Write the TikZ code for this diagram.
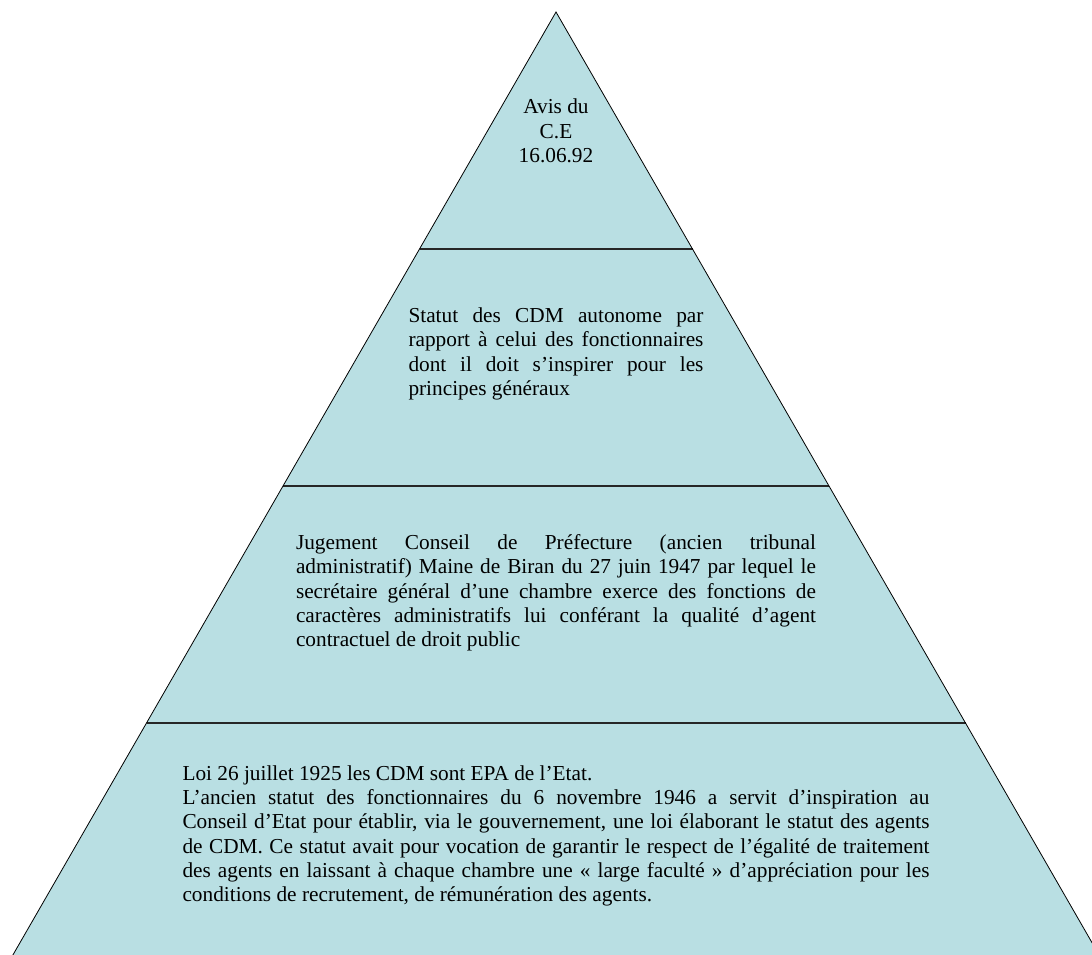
\documentclass[tikz,border=0pt]{standalone}
\usepackage{fontspec}
\setmainfont{Liberation Serif}
\usetikzlibrary{calc}
\definecolor{layerfill}{RGB}{185,223,227}

\begin{document}
\begin{tikzpicture}[x=1pt,y=-1pt,
  layertext/.style={inner sep=0pt, font=\fontsize{21.3}{24.3}\selectfont},
  bodytext/.style={layertext, align=justify},
  divider/.style={line width=1.8pt, draw=black!85}]
  \useasboundingbox (0,0) rectangle (1092,954);
  \clip (0,0) rectangle (1092,954);

  % Pyramid
  \coordinate (apex) at (556,12);
  \coordinate (bl) at (10,960);
  \coordinate (br) at (1102,960);
  \fill[layerfill] (apex) -- (bl) -- (br) -- cycle;
  \foreach \t in {0.25,0.5,0.75}
    \draw[divider] ($(apex)!\t!(bl)$) -- ($(apex)!\t!(br)$); % layer borders
  \draw[line width=0.8pt] (bl) -- (apex) -- (br);

  % Nodes
  \node[layertext, align=center] (avis) at (556,131) {Avis du\\C.E\\16.06.92};
  \node[bodytext, text width=295pt] (statut) at (556,354)
    {Statut des CDM autonome par\linebreak rapport à celui des fonctionnaires\linebreak dont il doit s’inspirer pour les\linebreak principes généraux};
  \node[bodytext, text width=520pt] (jugement) at (556,593)
    {Jugement Conseil de Préfecture (ancien tribunal\linebreak administratif) Maine de Biran du 27 juin 1947 par lequel le\linebreak secrétaire général d’une chambre exerce des fonctions de\linebreak caractères administratifs lui conférant la qualité d’agent\linebreak contractuel de droit public};
  \node[bodytext, text width=747pt] (loi) at (556,836)
    {Loi 26 juillet 1925 les CDM sont EPA de l’Etat.\\
     L’ancien statut des fonctionnaires du 6 novembre 1946 a servit d’inspiration au\linebreak Conseil d’Etat pour établir, via le gouvernement, une loi élaborant le statut des agents\linebreak de CDM. Ce statut avait pour vocation de garantir le respect de l’égalité de traitement\linebreak des agents en laissant à chaque chambre une « large faculté » d’appréciation pour les\linebreak conditions de recrutement, de rémunération des agents.};
\end{tikzpicture}
\end{document}
